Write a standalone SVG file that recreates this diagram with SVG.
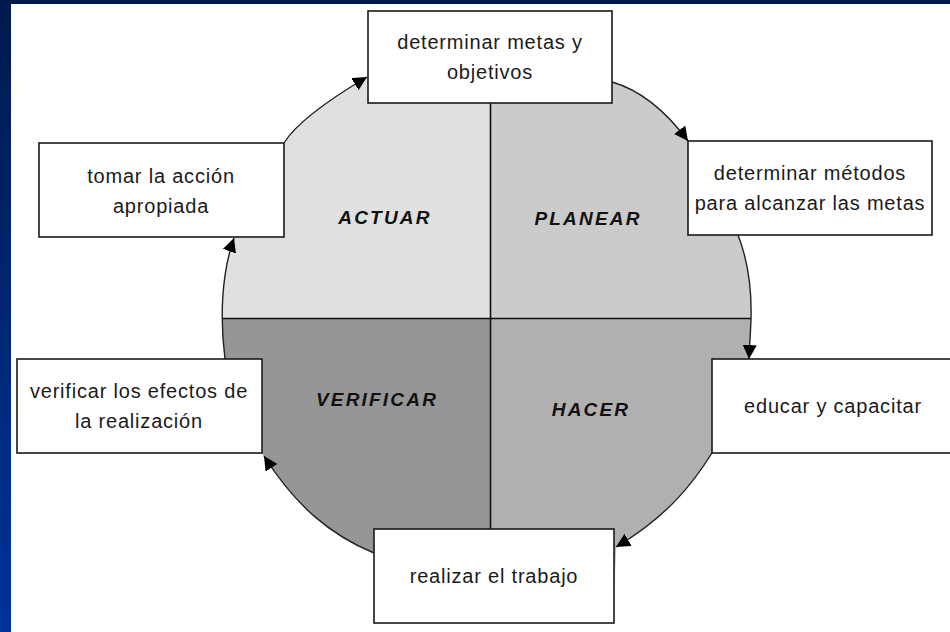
<svg xmlns="http://www.w3.org/2000/svg" width="950" height="632" viewBox="0 0 950 632">
<defs>
<linearGradient id="bg" x1="0" y1="0" x2="0" y2="1">
<stop offset="0" stop-color="#001a4d"/>
<stop offset="1" stop-color="#003399"/>
</linearGradient>
<clipPath id="cycle">
<path d="M367,77 L612,82 C640,90 665,110 688,141 L738,235 C747,258 752,285 751,320 L749,359 L712,453 C695,480 670,515 616,547 L614,600 L374,600 L374,553 C330,535 295,505 264,457 L262,453 L225,359 C220,320 221,275 234,238 L284,143 C295,125 320,105 367,77 Z"/>
</clipPath>
<marker id="arr" viewBox="0 0 10 10" refX="10" refY="5" markerWidth="14" markerHeight="14" markerUnits="userSpaceOnUse" orient="auto">
<path d="M0,0 L10,5 L0,10 z" fill="#000"/>
</marker>
<style>
.box{fill:#fff;stroke:#1a1a1a;stroke-width:1.6}
.t{font-family:"Liberation Sans",Arial,sans-serif;font-size:20px;letter-spacing:0.8px;fill:#1a1a1a;text-anchor:middle}
.q{font-family:"Liberation Sans",Arial,sans-serif;font-size:19px;font-weight:bold;font-style:italic;letter-spacing:2.2px;fill:#111;text-anchor:middle}
.c{fill:none;stroke:#222;stroke-width:1.4;marker-end:url(#arr)}
.div{stroke:#111;stroke-width:1.6}
</style>
</defs>
<rect x="0" y="0" width="950" height="632" fill="url(#bg)"/>
<rect x="11" y="4" width="939" height="628" fill="#fff"/>

<g id="quadrants" clip-path="url(#cycle)">
<g id="actuar"><rect x="200" y="0" width="290.5" height="318.5" fill="#e0e0e0"/></g>
<g id="planear"><rect x="490.5" y="0" width="300" height="318.5" fill="#cbcbcb"/></g>
<g id="verificar"><rect x="200" y="318.5" width="290.5" height="320" fill="#969696"/></g>
<g id="hacer"><rect x="490.5" y="318.5" width="300" height="320" fill="#b0b0b0"/></g>
</g>
<line class="div" x1="490.5" y1="103" x2="490.5" y2="529"/>
<line class="div" x1="222" y1="318.5" x2="751" y2="318.5"/>
<text class="q" x="385" y="224">ACTUAR</text>
<text class="q" x="588" y="225">PLANEAR</text>
<text class="q" x="377" y="406">VERIFICAR</text>
<text class="q" x="591" y="416">HACER</text>

<g id="connectors">
<path class="c" d="M612,82 C640,90 665,110 688,141"/>
<path class="c" d="M738,235 C747,258 752,285 751,320 L749,359"/>
<path class="c" d="M712,453 C695,480 670,515 616,547"/>
<path class="c" d="M374,553 C330,535 295,505 264,456"/>
<path class="c" d="M225,359 C220,320 221,275 234,238"/>
<path class="c" d="M284,143 C295,125 320,105 367,77"/>
</g>

<g id="n-metas">
<rect class="box" x="368" y="11" width="244" height="92"/>
<text class="t" x="490" y="49">determinar metas y</text>
<text class="t" x="490" y="79">objetivos</text>
</g>
<g id="n-metodos">
<rect class="box" x="688" y="141" width="244" height="94"/>
<text class="t" x="810" y="180">determinar métodos</text>
<text class="t" x="810" y="210">para alcanzar las metas</text>
</g>
<g id="n-educar">
<rect class="box" x="712" y="359" width="250" height="94"/>
<text class="t" x="833" y="413">educar y capacitar</text>
</g>
<g id="n-realizar">
<rect class="box" x="374" y="529" width="240" height="94"/>
<text class="t" x="494" y="583">realizar el trabajo</text>
</g>
<g id="n-verificar">
<rect class="box" x="17" y="359" width="245" height="94"/>
<text class="t" x="139" y="398">verificar los efectos de</text>
<text class="t" x="139" y="428">la realización</text>
</g>
<g id="n-tomar">
<rect class="box" x="39" y="143" width="245" height="94"/>
<text class="t" x="161" y="183">tomar la acción</text>
<text class="t" x="161" y="213">apropiada</text>
</g>
</svg>
